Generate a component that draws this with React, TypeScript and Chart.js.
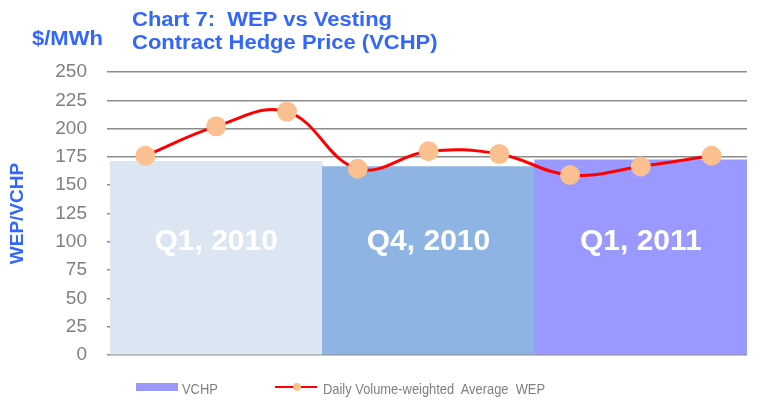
import React, { useEffect, useRef } from 'react';
import { Chart, registerables } from 'chart.js';

Chart.register(...registerables);

// ---- Data ----
const quarters = ['Q1, 2010', 'Q4, 2010', 'Q1, 2011'];
const vchpValues = [171, 166.5, 172.5];
const months = ['Jan 2010', 'Feb 2010', 'Mar 2010', 'Oct 2010', 'Nov 2010', 'Dec 2010', 'Jan 2011', 'Feb 2011', 'Mar 2011'];
const wepValues = [176, 202, 215, 164.5, 180, 177.5, 159, 166.5, 176];
const yMin = 0;
const yMax = 250;
const yStep = 25;
const barLabelValue = 100;

// ---- Text ----
const titleLine1 = 'Chart 7:  WEP vs Vesting';
const titleLine2 = 'Contract Hedge Price (VCHP)';
const unitLabel = '$/MWh';
const yAxisTitle = 'WEP/VCHP';
const vchpLegend = 'VCHP';
const wepLegend = 'Daily Volume-weighted  Average  WEP';

// ---- Styles ----
const FONT = 'Arial, "Liberation Sans", sans-serif';
const BLUE = '#3366FF';
const GRAY_TEXT = '#808080';
const barColors = ['#DCE6F2', '#8DB4E2', '#9999FF'];
const lineColor = '#FF0000';
const pointColor = '#FAC090';

const barLabelPlugin = {
  id: 'barLabels',
  afterDatasetsDraw(chart: any) {
    const meta = chart.getDatasetMeta(0);
    const y = chart.scales.y.getPixelForValue(barLabelValue);
    const ctx = chart.ctx;
    ctx.save();
    ctx.font = `bold 30px ${FONT}`;
    ctx.fillStyle = '#FFFFFF';
    ctx.textAlign = 'center';
    ctx.textBaseline = 'middle';
    meta.data.forEach((el: any, i: number) => {
      ctx.fillText(quarters[i], el.x, y);
    });
    ctx.restore();
  },
};

export default function App() {
  const ref = useRef<HTMLCanvasElement>(null);

  useEffect(() => {
    const chart = new Chart(ref.current as HTMLCanvasElement, {
      type: 'bar',
      data: {
        datasets: [
          {
            type: 'bar',
            label: vchpLegend,
            data: vchpValues,
            xAxisID: 'x',
            backgroundColor: barColors,
            borderWidth: 0,
            barPercentage: 1,
            categoryPercentage: 1,
            grouped: false,
            order: 1,
          },
          {
            type: 'line',
            label: wepLegend,
            data: wepValues,
            xAxisID: 'x2',
            borderColor: lineColor,
            borderWidth: 3,
            tension: 0.4,
            fill: false,
            pointRadius: 10,
            pointHoverRadius: 10,
            pointBackgroundColor: pointColor,
            pointBorderColor: pointColor,
            pointBorderWidth: 0,
            order: 0,
          },
        ] as any,
      },
      options: {
        animation: false,
        responsive: false,
        maintainAspectRatio: false,
        layout: { padding: { top: 72, right: 21, bottom: 47, left: 0 } },
        plugins: {
          legend: { display: false },
          tooltip: { enabled: false },
          title: { display: false },
        },
        scales: {
          x: { type: 'category', labels: quarters, display: false, offset: true },
          x2: { type: 'category', labels: months, display: false, offset: true },
          y: {
            min: yMin,
            max: yMax,
            ticks: {
              stepSize: yStep,
              color: GRAY_TEXT,
              padding: 20,
              font: { size: 19, family: FONT },
            },
            grid: { color: '#8C8C8C', lineWidth: 1.5, tickLength: 3 },
            border: { display: false },
            title: {
              display: true,
              text: yAxisTitle,
              color: BLUE,
              font: { size: 19, weight: 'bold', family: FONT },
              padding: { top: 6, bottom: 0 },
            },
            afterFit: (scale: any) => {
              scale.width = 110;
            },
          },
        } as any,
      },
      plugins: [barLabelPlugin],
    });
    return () => chart.destroy();
  }, []);

  const titleStyle: React.CSSProperties = {
    position: 'absolute',
    fontFamily: FONT,
    fontWeight: 'bold',
    fontSize: 20,
    lineHeight: '23px',
    color: BLUE,
    whiteSpace: 'pre',
    transform: 'scaleX(1.1)',
    transformOrigin: 'left top',
  };
  const legendText: React.CSSProperties = {
    position: 'absolute',
    fontFamily: FONT,
    fontSize: 15,
    lineHeight: '18px',
    color: GRAY_TEXT,
    whiteSpace: 'pre',
    transform: 'scaleX(0.86)',
    transformOrigin: 'left top',
    top: 380,
  };

  return (
    <div style={{ position: 'fixed', left: 0, top: 0, width: 768, height: 402, overflow: 'hidden', background: '#FFFFFF' }}>
      <canvas ref={ref} width={768} height={402} style={{ position: 'absolute', left: 0, top: 0, width: 768, height: 402 }} />
      <div style={{ ...titleStyle, left: 132, top: 7.5 }}>
        {titleLine1}
        {'\n'}
        {titleLine2}
      </div>
      <div style={{ ...titleStyle, left: 32, top: 26.5 }}>{unitLabel}</div>
      <div style={{ position: 'absolute', left: 136, top: 383, width: 42, height: 8, background: barColors[2] }} />
      <div style={{ ...legendText, left: 182 }}>{vchpLegend}</div>
      <div style={{ position: 'absolute', left: 275, top: 386, width: 42, height: 2, background: lineColor }} />
      <div style={{ position: 'absolute', left: 293, top: 383, width: 8, height: 8, borderRadius: '50%', background: pointColor }} />
      <div style={{ ...legendText, left: 322.5 }}>{wepLegend}</div>
    </div>
  );
}
